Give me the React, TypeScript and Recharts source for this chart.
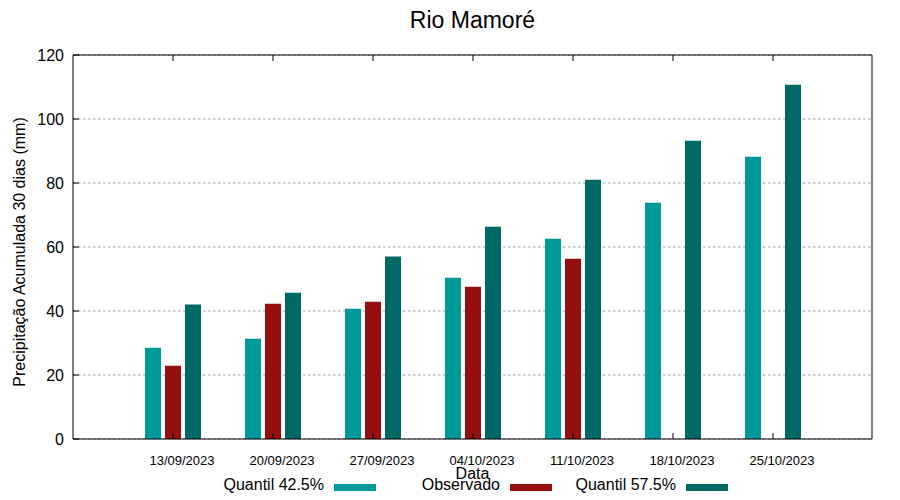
import { BarChart, Bar, XAxis, YAxis, CartesianGrid, Label } from "recharts";

const datas = ["13/09/2023", "20/09/2023", "27/09/2023", "04/10/2023", "11/10/2023", "18/10/2023", "25/10/2023"];
const quantil425 = [28.5, 31.3, 40.7, 50.4, 62.6, 73.8, 88.2];
const observado = [22.9, 42.3, 42.9, 47.6, 56.3, null, null];
const quantil575 = [42.0, 45.7, 57.0, 66.3, 81.0, 93.2, 110.7];
const yTicks = [0, 20, 40, 60, 80, 100, 120];

const series = [
  { key: "q425", name: "Quantil 42.5%", color: "#009999" },
  { key: "obs", name: "Observado", color: "#960f0f" },
  { key: "q575", name: "Quantil 57.5%", color: "#006966" }
];

const data = datas.map((d, i) => ({
  data: d,
  q425: quantil425[i],
  obs: observado[i],
  q575: quantil575[i]
}));

const FONT = "'Liberation Sans', Arial, sans-serif";

// gnuplot style inward ticks
const BottomTick = (props: any) => {
  const { x, y, payload } = props;
  return (
    <g>
      <line x1={x} x2={x} y1={y} y2={y - 6} stroke="#000" />
      <text x={x + 9} y={y + 26} textAnchor="middle" fontSize={13} fill="#000" fontFamily={FONT}>
        {payload.value}
      </text>
    </g>
  );
};

const TopTick = (props: any) => {
  const { x, y } = props;
  return <line x1={x} x2={x} y1={y} y2={y + 6} stroke="#000" />;
};

const LeftTick = (props: any) => {
  const { x, y, payload } = props;
  return (
    <g>
      <line x1={x} x2={x + 6} y1={y} y2={y} stroke="#000" />
      <text x={x - 9} y={y + 5.5} textAnchor="end" fontSize={16} fill="#000" fontFamily={FONT}>
        {payload.value}
      </text>
    </g>
  );
};

const RightTick = (props: any) => {
  const { x, y } = props;
  return <line x1={x} x2={x - 6} y1={y} y2={y} stroke="#000" />;
};

export default function App() {
  return (
    <div style={{ position: "relative", width: 900, height: 500, background: "#fff", fontFamily: FONT }}>
      <style>{`body{margin:0}`}</style>
      <BarChart
        width={900}
        height={500}
        data={data}
        margin={{ top: 54, right: 27, bottom: 0, left: 8 }}
        barSize={16}
        barGap={4}
      >
        <CartesianGrid vertical={false} stroke="#a0a0a0" strokeDasharray="2.5 2.5" yAxisId="left" />
        {series.map((s) => (
          <Bar key={s.key} dataKey={s.key} name={s.name} fill={s.color} yAxisId="left" isAnimationActive={false} />
        ))}
        <XAxis
          dataKey="data"
          height={61}
          padding={{ left: 50, right: 49 }}
          axisLine={{ stroke: "#000" }}
          tickLine={false}
          tickSize={0}
          tickMargin={0}
          tick={<BottomTick />}
          interval={0}
        >
          <Label
            content={(p: any) => {
              const vb = p.viewBox;
              return (
                <text x={vb.x + vb.width / 2} y={479} textAnchor="middle" fontSize={16} fill="#000" fontFamily={FONT}>
                  Data
                </text>
              );
            }}
          />
        </XAxis>
        <XAxis
          xAxisId="top"
          orientation="top"
          dataKey="data"
          height={1}
          padding={{ left: 50, right: 49 }}
          axisLine={{ stroke: "#000" }}
          tickLine={false}
          tickSize={0}
          tickMargin={0}
          tick={<TopTick />}
          interval={0}
        >
          <Label
            content={(p: any) => {
              const vb = p.viewBox;
              return (
                <text x={vb.x + vb.width / 2} y={28} textAnchor="middle" fontSize={23} fill="#000" fontFamily={FONT}>
                  Rio Mamoré
                </text>
              );
            }}
          />
        </XAxis>
        <YAxis
          yAxisId="left"
          width={65}
          domain={[0, 120]}
          ticks={yTicks}
          axisLine={{ stroke: "#000" }}
          tickLine={false}
          tickSize={0}
          tickMargin={0}
          tick={<LeftTick />}
          interval={0}
        >
          <Label
            content={(p: any) => {
              const vb = p.viewBox;
              const cy = vb.y + vb.height / 2 + 5;
              return (
                <text
                  x={25}
                  y={cy}
                  transform={`rotate(-90 25 ${cy})`}
                  textAnchor="middle"
                  fontSize={16}
                  fill="#000"
                  fontFamily={FONT}
                >
                  Precipitação Acumulada 30 dias (mm)
                </text>
              );
            }}
          />
        </YAxis>
        <YAxis
          yAxisId="right"
          orientation="right"
          width={1}
          domain={[0, 120]}
          ticks={yTicks}
          axisLine={{ stroke: "#000" }}
          tickLine={false}
          tickSize={0}
          tickMargin={0}
          tick={<RightTick />}
          interval={0}
        />
      </BarChart>

      {/* legend, gnuplot style: text then sample */}
      <div style={{ position: "absolute", left: 200, top: 475, display: "flex" }}>
        {series.map((s) => (
          <div key={s.key} style={{ width: 176, display: "flex", alignItems: "flex-start" }}>
            <div style={{ width: 124, textAlign: "right", fontSize: 16, lineHeight: "20px", whiteSpace: "nowrap", color: "#000" }}>
              {s.name}
            </div>
            <div style={{ width: 42, height: 7, marginLeft: 10, marginTop: 9, background: s.color }} />
          </div>
        ))}
      </div>
    </div>
  );
}
